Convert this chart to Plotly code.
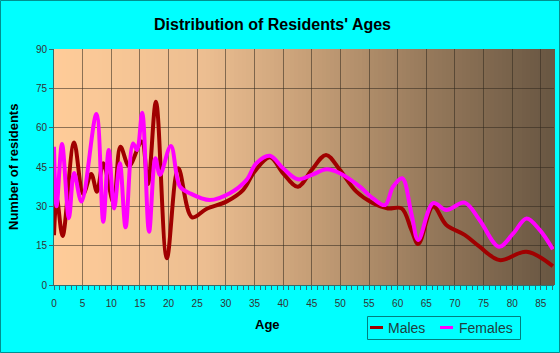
import plotly.graph_objects as go

# ---- data ----
male_age = [0, 0.5, 1.5, 3.5, 5.1, 6.5, 7.5, 8.6, 10.4, 11.6, 13.1, 15.3, 16.4, 17.8, 19.7,
            21.7, 24.1, 26.6, 30.1, 33, 35, 37.7, 40, 42.6, 45, 47.5, 49.9, 52.8, 55.7,
            58.3, 60.7, 62.4, 63.6, 66.2, 68.5, 71.7, 74.3, 77.8, 82.5, 87.1]
male_val = [19, 33, 18.7, 54.3, 34.7, 42.3, 35.6, 46.4, 31.4, 52.7, 45.4, 54.7, 38.5, 69.9, 10.2,
            44.5, 25.8, 29.0, 31.8, 36.2, 43.2, 48.7, 42.6, 37.5, 43.9, 49.6, 43.9, 35.6, 31.2,
            29.2, 29.2, 21, 15.6, 29.9, 22.9, 19.1, 14.6, 9.5, 12.7, 7.2]

female_age = [0, 0.45, 1.4, 2.6, 3.5, 4.8, 7.4, 8.6, 9.55, 10.5, 11.5, 12.5, 13.8, 14.5, 15.4,
              16.6, 17.7, 18.5, 20.4, 22, 23.7, 27.2, 30.7, 33.6, 35.3, 37.7, 40, 42.6, 45,
              47.6, 49.9, 53.4, 55.7, 57.8, 59.2, 60.8, 62.4, 63.6, 66.2, 68.5, 71.7, 74.3,
              77.7, 80.2, 82.5, 84.8, 87.1]
female_val = [52.7, 30, 53.8, 25.5, 42.7, 31.8, 65.2, 24.1, 51.5, 29.2, 46.4, 22, 54, 51.5, 65.7,
              20.3, 48.3, 42, 53, 37.5, 35, 32.4, 35, 40, 46.4, 49.3, 44.5, 40.3, 42,
              44.1, 42.6, 37.5, 33, 30.5, 37.5, 40.7, 27.3, 17.2, 31.2, 28.6, 31.4, 24.8,
              14.6, 19.7, 25.4, 21, 13.6]

x_ticks = list(range(0, 90, 5))
y_ticks = [0, 15, 30, 45, 60, 75, 90]
series_names = ["Males", "Females"]
series_colors = ["#A00000", "#FF00FF"]

W, H = 560, 353
L, R, T, B = 54, 6, 49, 68
PW, PH = W - L - R, H - T - B

def px_x(p):
    return (p - L) / PW

def px_y(p):
    return (H - B - p) / PH

fig = go.Figure()
fig.add_trace(go.Scatter(x=male_age, y=male_val, name=series_names[0], mode="lines",
                         line=dict(color=series_colors[0], width=4, shape="spline", smoothing=1)))
fig.add_trace(go.Scatter(x=female_age, y=female_val, name=series_names[1], mode="lines",
                         line=dict(color=series_colors[1], width=4, shape="spline", smoothing=1)))

# gradient background of the plot area
stops = [(0.0, (255, 204, 153)), (0.3, (236, 190, 145)), (0.5, (200, 160, 120)),
         (0.75, (150, 121, 91)), (1.0, (104, 86, 66))]

def col(t):
    for (t0, c0), (t1, c1) in zip(stops[:-1], stops[1:]):
        if t0 <= t <= t1:
            f = (t - t0) / (t1 - t0)
            return "rgb(%d,%d,%d)" % tuple(round(a + (b - a) * f) for a, b in zip(c0, c1))
    return "rgb(%d,%d,%d)" % stops[-1][1]

shapes = []
N = 125
for i in range(N):
    shapes.append(dict(type="rect", xref="paper", yref="paper", x0=i / N, x1=(i + 1) / N + 0.002,
                       y0=0, y1=1, fillcolor=col((i + 0.5) / N), line=dict(width=0), layer="below"))
# outer border of the picture
shapes.append(dict(type="rect", xref="paper", yref="paper", x0=px_x(0.5), x1=px_x(559.5),
                   y0=px_y(352.5), y1=px_y(0.5), line=dict(color="#009090", width=1),
                   fillcolor="rgba(0,0,0,0)", layer="above"))
# custom legend box
shapes.append(dict(type="rect", xref="paper", yref="paper", x0=px_x(367.5), x1=px_x(520.5),
                   y0=px_y(339.5), y1=px_y(316.5), line=dict(color="#007F7F", width=1),
                   fillcolor="rgba(0,0,0,0)", layer="above"))
legend_sample_x = [370, 440]
legend_text_x = [386, 457]
for sx, c in zip(legend_sample_x, series_colors):
    shapes.append(dict(type="line", xref="paper", yref="paper", x0=px_x(sx), x1=px_x(sx + 13),
                       y0=px_y(327.5), y1=px_y(327.5), line=dict(color=c, width=3), layer="above"))

grid = "rgba(50,40,30,0.55)"
annotations = [
    dict(text="<b>Distribution of Residents' Ages</b>", xref="paper", yref="paper",
         x=px_x(272), y=px_y(24), xanchor="center", yanchor="middle", showarrow=False,
         font=dict(size=16, color="#000000")),
    dict(text="<b>Number of residents</b>", xref="paper", yref="paper", textangle=-90,
         x=px_x(13), y=0.5, xanchor="center", yanchor="middle", showarrow=False,
         font=dict(size=13, color="#000000")),
    dict(text="<b>Age</b>", xref="paper", yref="paper",
         x=px_x(267), y=px_y(324), xanchor="center", yanchor="middle", showarrow=False,
         font=dict(size=13, color="#000000")),
]
for tx, name in zip(legend_text_x, series_names):
    annotations.append(dict(text=name, xref="paper", yref="paper", x=px_x(tx), y=px_y(327.5),
                            xanchor="left", yanchor="middle", showarrow=False,
                            font=dict(size=14, color="#1F4040")))

fig.update_layout(
    width=W, height=H,
    margin=dict(l=L, r=R, t=T, b=B),
    paper_bgcolor="#00FFFF", plot_bgcolor="rgba(0,0,0,0)",
    font=dict(family="Liberation Sans, Arial, sans-serif", color="#333333", size=10),
    shapes=shapes,
    showlegend=False,
    xaxis=dict(range=[0, 87.3], tickvals=x_ticks, showgrid=True, gridcolor=grid, gridwidth=1,
               ticks="outside", ticklen=4, tickcolor="#2F6F6F", showline=True,
               linecolor="#2F6F6F", linewidth=1, zeroline=False, ticklabelstandoff=5,
               minor=dict(dtick=1, ticks="outside", ticklen=4, tickcolor="#2F6F6F", showgrid=False),
               tickfont=dict(size=10, color="#333333")),
    yaxis=dict(range=[0, 90], tickvals=y_ticks, showgrid=True, gridcolor=grid, gridwidth=1,
               ticks="outside", ticklen=4, tickcolor="#2F6F6F", showline=True,
               linecolor="#2F6F6F", linewidth=1, zeroline=False,
               tickfont=dict(size=10, color="#333333")),
    annotations=annotations,
)

fig.write_html("out.html")
